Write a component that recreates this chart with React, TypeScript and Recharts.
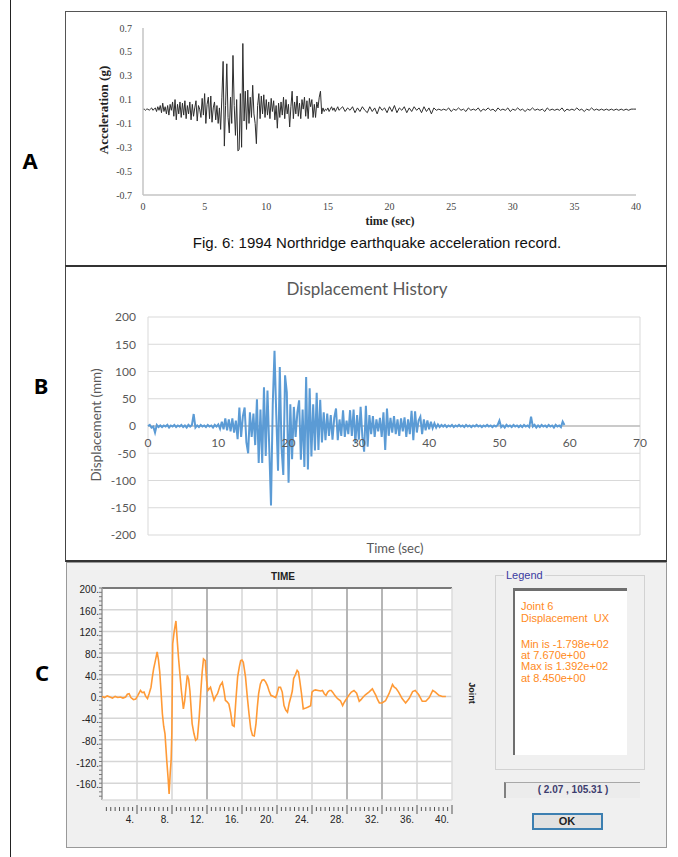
import React from "react";
import { LineChart, Line, XAxis, YAxis, CartesianGrid, ReferenceLine, ReferenceDot } from "recharts";

// ---- A: Northridge acceleration (g) ----
// strong part sampled every 0.1 s (0 - 15.9 s), coda every 0.2 s (16 - 40 s)
const accelStrongDt = 0.1;
const accelStrong = [
  0.02, 0.02, 0.01, 0.02, 0.02, 0.01, 0.02, 0.03, 0.01, 0.02,
  0.03, 0.0, 0.04, 0.01, 0.05, -0.01, 0.07, 0.0, 0.04, -0.02,
  0.05, -0.03, 0.06, 0.01, 0.08, -0.04, 0.1, -0.07, 0.06, -0.02,
  0.08, -0.05, 0.07, -0.03, 0.09, -0.06, 0.05, -0.02, 0.08, -0.07,
  0.06, -0.04, 0.03, 0.09, -0.08, 0.05, 0.02, -0.05, 0.11, -0.03,
  0.15, -0.1, 0.06, 0.12, -0.06, 0.13, -0.09, 0.03, 0.08, -0.07,
  0.05, -0.1, 0.03, -0.15, 0.12, 0.42, -0.29, 0.05, 0.4, -0.05,
  -0.18, 0.12, -0.1, 0.47, 0.05, -0.2, 0.1, -0.33, -0.32, 0.15,
  -0.3, 0.57, -0.08, 0.17, -0.15, 0.18, -0.1, 0.12, -0.05, 0.22,
  -0.02, -0.1, -0.27, 0.05, 0.15, -0.06, 0.13, -0.02, 0.14, -0.05,
  0.1, -0.03, 0.08, -0.06, 0.11, 0.0, 0.09, -0.07, 0.05, -0.14,
  0.07, -0.05, 0.08, -0.03, 0.12, -0.06, 0.1, -0.02, 0.06, -0.13,
  0.04, 0.17, -0.06, 0.08, -0.02, 0.13, -0.04, 0.07, -0.06, 0.1,
  0.02, 0.12, -0.04, 0.09, -0.06, 0.11, 0.04, 0.1, -0.05, 0.06,
  -0.05, 0.08, 0.03, 0.12, 0.17, -0.02, 0.03, 0.0, 0.02, 0.01,
  0.03, 0.0, 0.02, 0.04, 0.01, 0.03, 0.0, 0.02, 0.04, 0.01,
];
const accelCodaStart = 16;
const accelCodaDt = 0.2;
const accelCoda = [
  0.02, 0.04, 0.0, 0.03, 0.01, 0.04, -0.01, 0.03, 0.0, 0.04,
  0.01, -0.01, 0.04, 0.0, 0.03, -0.02, 0.04, 0.01, 0.03, -0.01,
  0.04, 0.0, 0.05, -0.01, 0.03, 0.01, 0.04, -0.01, 0.03, 0.0,
  0.04, 0.01, 0.03, -0.01, 0.04, 0.0, 0.03, -0.02, 0.03, 0.01,
  0.02, 0.01, 0.02, 0.01, 0.03, 0.0, 0.02, 0.01, 0.03, 0.01,
  0.02, 0.0, 0.03, 0.01, 0.02, 0.01, 0.03, 0.0, 0.02, 0.01,
  0.03, 0.01, 0.02, 0.0, 0.03, 0.01, 0.02, 0.01, 0.03, 0.0,
  0.02, 0.01, 0.03, 0.01, 0.02, 0.0, 0.02, 0.01, 0.03, 0.01,
  0.02, 0.01, 0.02, 0.0, 0.03, 0.01, 0.02, 0.01, 0.02, 0.01,
  0.03, 0.0, 0.02, 0.01, 0.02, 0.01, 0.03, 0.01, 0.02, 0.0,
  0.02, 0.01, 0.03, 0.01, 0.02, 0.01, 0.02, 0.01, 0.02, 0.01,
  0.02, 0.01, 0.02, 0.01, 0.02, 0.01, 0.02, 0.01, 0.02, 0.02,
  0.02,
];
const accelTicksY = [0.7, 0.5, 0.3, 0.1, -0.1, -0.3, -0.5, -0.7];
const accelTicksX = [0, 5, 10, 15, 20, 25, 30, 35, 40];

// ---- B: displacement history (mm), every 0.25 s ----
const dispDt = 0.25;
const displacement = [
  0, 2, -3, -1, -12, 2, -2, 1,
  -2, 1, -1, 2, -3, 1, -1, 2,
  -2, 1, -1, 2, -2, 1, -3, 2,
  -1, 2, 22, -3, 1, -2, 2, -1,
  1, -2, 2, -1, 1, -3, 2, -1,
  3, -5, 8, -6, 14, -8, 12, -10,
  14, -12, 10, -24, 34, -20, 18, 34,
  -30, -50, 25, -20, 23, -35, 49, -68,
  30, -68, 71, -55, 65, -40, -146, 40,
  138, 20, -82, 108, -40, -90, 93, 62,
  -104, 40, -61, 35, -20, 25, 47, -62,
  30, -75, 90, -80, 69, -56, 40, -45,
  61, -44, 48, -30, 25, -26, 23, -18,
  20, -25, 15, 32, -26, 12, -18, 29,
  -20, 10, -15, 29, -18, 30, -32, 20,
  -25, 35, -20, -47, 37, -38, 20, -15,
  18, -20, 12, -10, 15, -20, 25, -44,
  32, -18, 15, -12, 18, -15, 12, -18,
  14, -10, 16, -20, 12, -15, 28, -26,
  27, -12, 10, 17, -15, 12, -8, 10,
  -6, 8, -4, 5, -3, 3, -2, 2,
  -1, 2, -2, 1, -1, 2, -2, 1,
  -1, 2, -1, 1, -2, 2, -1, 1,
  -2, 1, -1, 2, -1, 1, -2, 1,
  -1, 2, -1, 1, -2, 1, -1, 2,
  10, -2, 1, -3, 2, -1, 1, -2,
  2, -1, 1, -2, 1, -2, 2, -1,
  1, -2, 17, -1, 2, -3, 1, -2,
  2, -1, 1, -2, 2, -1, 1, -3,
  2, -1, 1, -2, 8, 2,
];
const dispTicksY = [200, 150, 100, 50, 0, -50, -100, -150, -200];
const dispTicksX = [0, 10, 20, 30, 40, 50, 60, 70];

// ---- C: SAP2000 joint 6 displacement UX ----
const sapTime = [
  0, 0.3, 0.6, 0.9, 1.2, 1.5, 1.8, 2.1, 2.4, 2.7,
  2.9, 3.1, 3.3, 3.6, 3.85, 4.1, 4.4, 4.6, 4.8, 5.0,
  5.2, 5.4, 5.6, 5.75, 5.9, 6.1, 6.3, 6.45, 6.6, 6.75,
  6.9, 7.05, 7.2, 7.4, 7.55, 7.67, 7.8, 7.9, 7.98, 8.08,
  8.25, 8.45, 8.6, 8.75, 8.9, 9.07, 9.3, 9.45, 9.6, 9.75,
  9.9, 10.05, 10.3, 10.5, 10.7, 10.9, 11.1, 11.3, 11.45, 11.6,
  11.8, 11.95, 12.1, 12.4, 12.6, 12.8, 13.0, 13.2, 13.5, 13.75,
  13.95, 14.1, 14.3, 14.5, 14.7, 14.9, 15.1, 15.3, 15.5, 15.7,
  15.85, 16.0, 16.15, 16.4, 16.6, 16.8, 17.0, 17.2, 17.4, 17.6,
  17.75, 17.9, 18.1, 18.3, 18.5, 18.7, 18.9, 19.1, 19.3, 19.6,
  19.85, 20.0, 20.2, 20.4, 20.6, 20.8, 21.0, 21.2, 21.4, 21.6,
  21.75, 21.9, 22.1, 22.3, 22.45, 22.6, 22.8, 23.0, 23.2, 23.5,
  23.85, 24.0, 24.2, 24.4, 24.7, 25.0, 25.2, 25.4, 25.6, 25.8,
  26.0, 26.2, 26.4, 26.6, 26.8, 27.0, 27.25, 27.5, 27.65, 27.8,
  28.0, 28.2, 28.5, 28.8, 29.1, 29.4, 29.6, 29.8, 30.1, 30.5,
  30.9, 31.1, 31.3, 31.5, 31.7, 32.0, 32.4, 32.8, 33.2, 33.4,
  33.6, 33.9, 34.3, 34.7, 35.1, 35.5, 35.8, 36.2, 36.6, 37.0,
  37.4, 37.8, 38.1, 38.5, 38.9, 39.3,
];
const sapDisp = [
  0, -2, 1, -1, -3, 0, -2, -1, -3, -1,
  4, 5, -2, -6, -5, 2, 11, 7, 8, 0,
  -4, 6, 17, 35, 51, 66, 82, 68, 45, 8,
  -32, -55, -69, -118, -150, -179.8, -140, -118, -69, 97,
  120, 139.2, 103, 70, 42, 11, -23, -8, 17, 39,
  32, 10, -50, -68, -81, -78, -40, 11, 45, 69,
  66, 30, 11, 17, 5, -7, 0, 5, 20, 26,
  10, -7, -10, -14, -30, -53, -55, -7, 36, 55,
  66, 67, 63, 36, 0, -32, -60, -72, -73, -50,
  -20, 5, 23, 30, 31, 27, 20, 10, 2, 0,
  -2, 5, 17, 17, 8, -17, -25, -29, -12, 0,
  10, 33, 40, 48, 45, 29, 5, -23, -22, -20,
  -17, 8, 11, 12, 11, 10, 11, 5, 2, 8,
  11, 11, 7, 2, -2, -5, -8, -17, -12, -8,
  -3, 2, 8, 11, 6, -9, -6, -2, 3, 8,
  14, 8, 2, -6, -12, -12, -8, 5, 22, 17,
  15, 8, -4, -12, -4, 9, 11, 3, -9, -9,
  -2, 11, 8, 2, 0, 0,
];
const sapLabelsY = [200, 160, 120, 80, 40, 0, -40, -80, -120, -160];
const sapLabelsX = [4, 8, 12, 16, 20, 24, 28, 32, 36, 40];
const sapGridX = [4, 8, 12, 16, 20, 24, 28, 32, 36];
const sapLegend = ["Joint 6", "Displacement  UX", "", "Min is -1.798e+02", "at 7.670e+00", "Max is 1.392e+02", "at 8.450e+00"];

const accelData = [
  ...accelStrong.map((a, i) => ({ t: i * accelStrongDt, a })),
  ...accelCoda.map((a, i) => ({ t: accelCodaStart + i * accelCodaDt, a })),
];
const dispData = displacement.map((d, i) => ({ t: i * dispDt, d }));
const sapData = sapTime.map((t, i) => ({ t, v: sapDisp[i] }));

// ruler ticks along the SAP axes
const sapMinorY = Array.from({ length: 49 }, (_, i) => 200 - 8 * i);
const sapMinorX = Array.from({ length: 80 }, (_, i) => 0.5 * (i + 1));

const serif = '"Liberation Serif", "Times New Roman", serif';
const calibri = 'Lato, "Noto Sans", sans-serif';
const arial = '"Liberation Sans", Arial, sans-serif';

const Txt = ({ x, y, rot = 0, style, children }: any) => (
  <div
    style={{
      position: "absolute",
      left: x,
      top: y,
      transform: `translate(-50%, -50%) rotate(${rot}deg)`,
      whiteSpace: "nowrap",
      lineHeight: 1,
      ...style,
    }}
  >
    {children}
  </div>
);

const Box = ({ style }: any) => <div style={{ position: "absolute", boxSizing: "border-box", ...style }} />;

const SapYTick = (p: any) => {
  const v = p.payload.value;
  return (
    <g>
      <line x1={p.x - 3} x2={p.x} y1={p.y} y2={p.y} stroke="#777" strokeWidth={1} />
      {sapLabelsY.includes(v) && (
        <text x={p.x - 3} y={p.y} dy={5} textAnchor="end" fontSize={10} fill="#222" fontFamily={arial}>
          {v}.
        </text>
      )}
    </g>
  );
};

const SapXTick = (p: any) => {
  const v = p.payload.value;
  const major = v % 4 === 0;
  return (
    <g>
      <line x1={p.x} x2={p.x} y1={p.y + (major ? 5 : 7)} y2={p.y + (major ? 14 : 11)} stroke="#555" strokeWidth={1} />
      {sapLabelsX.includes(v) && (
        <text x={p.x - 3} y={p.y + 23} textAnchor="end" fontSize={10} fill="#222" fontFamily={arial}>
          {v}.
        </text>
      )}
    </g>
  );
};

export default function App() {
  return (
    <div style={{ position: "absolute", left: 0, top: 0, width: 678, height: 857, background: "#fff", overflow: "hidden" }}>
      {/* outer frame and panel boxes */}
      <Box style={{ left: 10, top: 0, width: 1, height: 857, background: "#222" }} />
      <Box style={{ left: 65, top: 11, width: 602, height: 255, border: "1px solid #555" }} />
      <Box style={{ left: 65, top: 265, width: 602, height: 297, borderLeft: "1px solid #444", borderRight: "1px solid #444", borderTop: "2px solid #333", borderBottom: "2px solid #333" }} />
      <Box style={{ left: 66, top: 562, width: 601, height: 286, background: "#f0f0f0", border: "1px solid #999" }} />

      <Txt x={30} y={160} style={{ fontFamily: "Noto Sans", fontWeight: 700, fontSize: 22 }}>A</Txt>
      <Txt x={41} y={385} style={{ fontFamily: "Noto Sans", fontWeight: 700, fontSize: 22 }}>B</Txt>
      <Txt x={42} y={672} style={{ fontFamily: "Noto Sans", fontWeight: 700, fontSize: 22 }}>C</Txt>

      {/* A */}
      <div style={{ position: "absolute", left: 100, top: 15 }}>
        <LineChart width={560} height={205} data={accelData} margin={{ top: 13, right: 24, bottom: 5, left: 0 }}>
          <XAxis
            type="number"
            dataKey="t"
            domain={[0, 40]}
            ticks={accelTicksX}
            interval={0}
            height={20}
            tickLine={false}
            tickSize={0}
            tickMargin={8}
            axisLine={{ stroke: "#c4c4c4", strokeWidth: 1.5 }}
            tick={{ fontSize: 10, fill: "#444", fontFamily: serif }}
          />
          <YAxis
            type="number"
            domain={[-0.7, 0.7]}
            ticks={accelTicksY}
            interval={0}
            width={43}
            tickLine={false}
            tickSize={0}
            tickMargin={11}
            axisLine={{ stroke: "#c4c4c4", strokeWidth: 1.5 }}
            tick={{ fontSize: 10, fill: "#444", fontFamily: serif }}
          />
          <Line type="linear" dataKey="a" stroke="#2e2e2e" strokeWidth={1} dot={false} activeDot={false} isAnimationActive={false} />
        </LineChart>
      </div>
      <Txt x={103} y={110} rot={-90} style={{ fontFamily: serif, fontWeight: 700, fontSize: 13, color: "#222" }}>Acceleration (g)</Txt>
      <Txt x={390} y={221} style={{ fontFamily: serif, fontWeight: 700, fontSize: 12, color: "#222" }}>time (sec)</Txt>
      <Txt x={377} y={242} style={{ fontFamily: arial, fontSize: 15, color: "#111" }}>Fig. 6: 1994 Northridge earthquake acceleration record.</Txt>

      {/* B */}
      <Txt x={367} y={288} style={{ fontFamily: calibri, fontSize: 17, color: "#595959" }}>Displacement History</Txt>
      <div style={{ position: "absolute", left: 80, top: 305 }}>
        <LineChart width={570} height={250} data={dispData} margin={{ top: 12, right: 10, bottom: 20, left: 0 }}>
          <CartesianGrid stroke="#d9d9d9" strokeWidth={1} />
          <XAxis type="number" dataKey="t" domain={[0, 70]} ticks={dispTicksX} interval={0} height={0} tick={false} tickLine={false} axisLine={false} />
          <YAxis
            type="number"
            domain={[-200, 200]}
            ticks={dispTicksY}
            interval={0}
            width={68}
            axisLine={false}
            tickLine={false}
            tickSize={0}
            tickMargin={12}
            tick={{ fontSize: 12, fill: "#595959", fontFamily: calibri }}
          />
          <ReferenceLine y={0} stroke="#bfbfbf" strokeWidth={1.5} />
          {dispTicksX.map((t) => (
            <ReferenceDot
              key={t}
              x={t}
              y={0}
              r={0}
              fill="none"
              stroke="none"
              label={{ value: String(t), position: "bottom", offset: 12, fill: "#595959", fontSize: 12, fontFamily: calibri }}
            />
          ))}
          <Line type="linear" dataKey="d" stroke="#5b9bd5" strokeWidth={2} dot={false} activeDot={false} isAnimationActive={false} />
        </LineChart>
      </div>
      <Txt x={97} y={425} rot={-90} style={{ fontFamily: calibri, fontSize: 13.5, color: "#595959" }}>Displacement (mm)</Txt>
      <Txt x={395} y={548} style={{ fontFamily: calibri, fontSize: 13, color: "#595959" }}>Time (sec)</Txt>

      {/* C */}
      <Txt x={283} y={577} style={{ fontFamily: arial, fontWeight: 700, fontSize: 10, color: "#222" }}>TIME</Txt>
      <div style={{ position: "absolute", left: 40, top: 575 }}>
        <LineChart width={420} height={250} data={sapData} margin={{ top: 13, right: 8, bottom: 0, left: 0 }}>
          <CartesianGrid fill="#fff" stroke="#d6d6d6" strokeWidth={1.5} horizontalValues={sapLabelsY} verticalValues={sapGridX} />
          <XAxis
            type="number"
            dataKey="t"
            domain={[0, 40]}
            ticks={sapMinorX}
            interval={0}
            height={25}
            tickSize={0}
            tickMargin={0}
            axisLine={false}
            tickLine={false}
            tick={SapXTick}
          />
          <YAxis
            type="number"
            domain={[-191, 200]}
            ticks={sapMinorY}
            interval={0}
            width={62}
            tickSize={0}
            tickMargin={0}
            axisLine={false}
            tickLine={false}
            tick={SapYTick}
          />
          <ReferenceLine x={12} stroke="#a8a8a8" strokeWidth={1.5} />
          <ReferenceLine x={28} stroke="#a8a8a8" strokeWidth={1.5} />
          <ReferenceLine x={32} stroke="#a8a8a8" strokeWidth={1.5} />
          <ReferenceLine y={200} stroke="#7a7a7a" strokeWidth={2} />
          <ReferenceLine x={0} stroke="#9a9a9a" strokeWidth={1.5} />
          <ReferenceLine x={40} stroke="#dcdcdc" strokeWidth={1.5} />
          <ReferenceLine y={-191} stroke="#dcdcdc" strokeWidth={1.5} />
          <Line type="linear" dataKey="v" stroke="#ff9a36" strokeWidth={1.6} dot={false} activeDot={false} isAnimationActive={false} />
        </LineChart>
      </div>
      <Txt x={471} y={693} rot={90} style={{ fontFamily: arial, fontWeight: 700, fontSize: 9, color: "#222" }}>Joint</Txt>

      {/* legend group */}
      <Box style={{ left: 495, top: 575, width: 150, height: 195, border: "1px solid #d2d2d2" }} />
      <div style={{ position: "absolute", left: 504, top: 569, padding: "0 2px", background: "#f0f0f0", fontFamily: arial, fontSize: 11, color: "#3a3aa0", lineHeight: "13px" }}>Legend</div>
      <Box style={{ left: 513, top: 588, width: 114, height: 167, background: "#fff", borderTop: "3px solid #6e6e6e", borderLeft: "2px solid #6e6e6e" }} />
      {sapLegend.map((s, i) => (
        <div
          key={i}
          style={{ position: "absolute", left: 521, top: 600 + [0, 12, 24, 38, 49, 60, 72][i], fontFamily: arial, fontSize: 11, color: "#ff8a1c", whiteSpace: "pre", lineHeight: "12px" }}
        >
          {s}
        </div>
      ))}
      <Box style={{ left: 504, top: 782, width: 136, height: 16, background: "#ececec", borderLeft: "2px solid #808080", borderTop: "1px solid #a8a8a8" }} />
      <Txt x={573} y={790} style={{ fontFamily: arial, fontWeight: 700, fontSize: 10, color: "#3c3c6e" }}>( 2.07 , 105.31 )</Txt>
      <Box style={{ left: 532, top: 813, width: 71, height: 17, background: "#e1e1e1", border: "2px solid #3c7fb1" }} />
      <Txt x={567} y={821} style={{ fontFamily: arial, fontWeight: 700, fontSize: 11, color: "#222" }}>OK</Txt>
    </div>
  );
}
